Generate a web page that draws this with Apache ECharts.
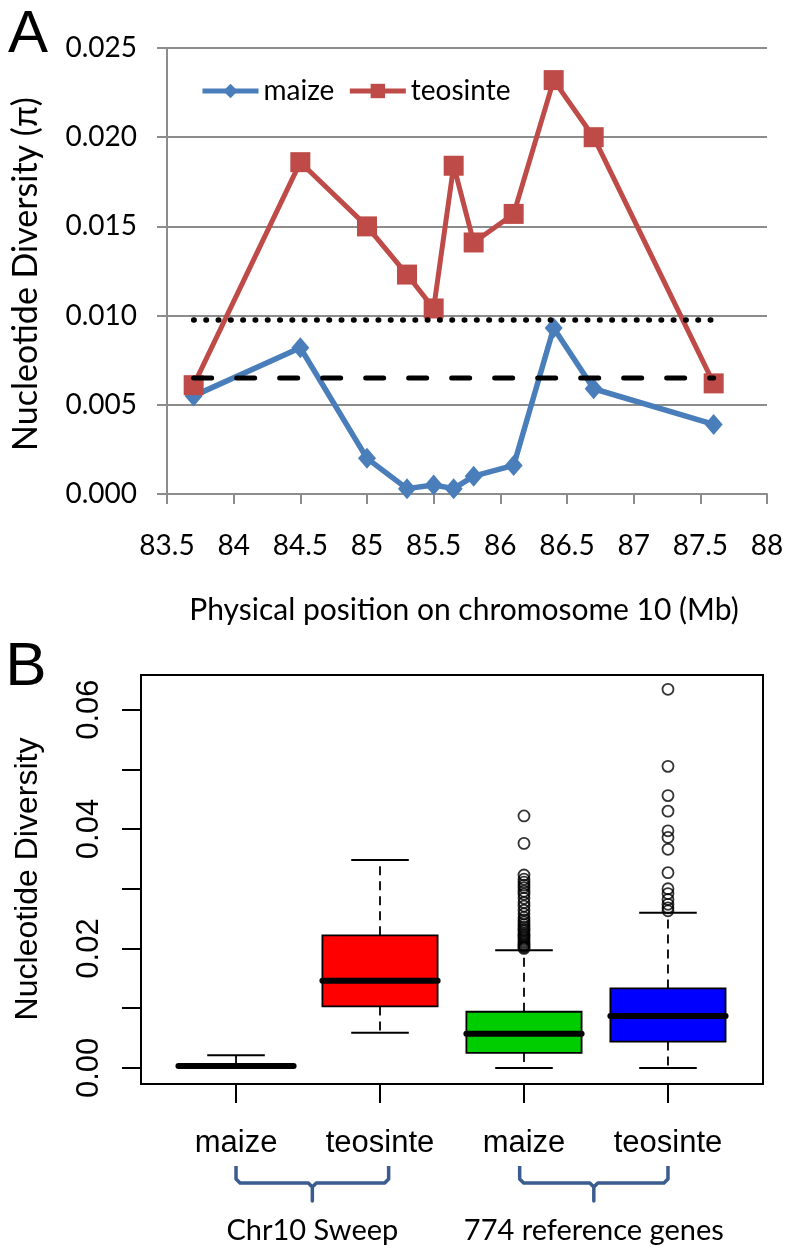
<!DOCTYPE html>
<html>
<head>
<meta charset="utf-8">
<script src="https://cdn.jsdelivr.net/npm/echarts@6/dist/echarts.min.js"></script>
<style>
  html, body { margin: 0; padding: 0; background: #fff; }
  #chart { width: 787px; height: 1248px; }
</style>
</head>
<body>
<div id="chart"></div>
<script type="application/javascript">
// ---- panel A: diversity along chromosome 10 ----
const positions = [83.7, 84.5, 85.0, 85.3, 85.5, 85.65, 85.8, 86.1, 86.4, 86.7, 87.6];
const maizePi = [0.0055, 0.0082, 0.0020, 0.0003, 0.0005, 0.0003, 0.0010, 0.0016, 0.0093, 0.0059, 0.0039];
const teosintePi = [0.0061, 0.0186, 0.0150, 0.0123, 0.0104, 0.0184, 0.0141, 0.0157, 0.0232, 0.0200, 0.0062];
const teosinteRefLevel = 0.00975; // dotted
const maizeRefLevel = 0.0065;     // dashed

// ---- panel B: box plots ----
const boxGroups = ['maize', 'teosinte', 'maize', 'teosinte'];
const boxPositions = [1, 2, 3, 4];
// min, q1, median, q3, max (whisker ends)
const boxStats = [
  [0.0000, 0.0002, 0.0003, 0.0005, 0.0021],
  [0.0059, 0.0103, 0.0146, 0.0222, 0.0348],
  [0.0000, 0.0025, 0.0057, 0.0094, 0.0197],
  [0.0000, 0.0044, 0.0087, 0.0133, 0.0260]
];
const boxColors = ['#ffffff', '#ff0000', '#00cd00', '#0000ff'];
const maizeRefOutliers = [0.0422, 0.0376, 0.0323, 0.0316, 0.0311, 0.0306, 0.0302, 0.0296, 0.0291,
  0.0284, 0.0277, 0.0271, 0.0264, 0.0258, 0.0252, 0.0248, 0.0244, 0.0240, 0.0236, 0.0232,
  0.0229, 0.0225, 0.0222, 0.0219, 0.0216, 0.0213, 0.0210, 0.0207, 0.0204, 0.0202, 0.0200];
const teosinteRefOutliers = [0.0634, 0.0505, 0.0456, 0.0430, 0.0397, 0.0386, 0.0366, 0.0327,
  0.0300, 0.0292, 0.0282, 0.0274, 0.0268, 0.0263];
const yTicksB = [0, 0.01, 0.02, 0.03, 0.04, 0.05, 0.06];
const yLabelsB = [0, 0.02, 0.04, 0.06];
const braceSpans = [[1.0, 2.06], [2.97, 4.0]];
const braceLabels = ['Chr10 Sweep', '774 reference genes'];

const GRAY = '#8c8c8c';
const chart = echarts.init(document.getElementById('chart'));

function renderBox(params, api) {
  const x = api.value(0);
  const pMin = api.coord([x, api.value(1)]);
  const pQ1 = api.coord([x, api.value(2)]);
  const pMed = api.coord([x, api.value(3)]);
  const pQ3 = api.coord([x, api.value(4)]);
  const pMax = api.coord([x, api.value(5)]);
  const half = api.size([0.8, 0])[0] / 2;
  const cx = pMed[0];
  const dash = { stroke: '#000', lineWidth: 1.8, lineDash: [9, 6] };
  const solid = { stroke: '#000', lineWidth: 2 };
  return {
    type: 'group',
    children: [
      { type: 'line', shape: { x1: cx, y1: pQ3[1], x2: cx, y2: pMax[1] }, style: dash },
      { type: 'line', shape: { x1: cx, y1: pQ1[1], x2: cx, y2: pMin[1] }, style: dash },
      { type: 'line', shape: { x1: cx - half / 2, y1: pMax[1], x2: cx + half / 2, y2: pMax[1] }, style: solid },
      { type: 'line', shape: { x1: cx - half / 2, y1: pMin[1], x2: cx + half / 2, y2: pMin[1] }, style: solid },
      { type: 'rect', shape: { x: cx - half, y: pQ3[1], width: half * 2, height: pQ1[1] - pQ3[1] },
        style: { fill: boxColors[params.dataIndex], stroke: '#000', lineWidth: 1.8 } },
      { type: 'line', shape: { x1: cx - half, y1: pMed[1], x2: cx + half, y2: pMed[1] },
        style: { stroke: '#000', lineWidth: 6, lineCap: 'round' } }
    ]
  };
}

const option = {
  animation: false,
  backgroundColor: '#fff',
  textStyle: { fontFamily: 'Lato' },
  legend: {
    data: ['maize', 'teosinte'],
    left: 195, top: 72,
    itemWidth: 56, itemHeight: 18, itemGap: 13,
    lineStyle: { width: 5 },
    textStyle: { fontFamily: 'Lato', fontSize: 28, color: '#000' }
  },
  grid: [
    { left: 167, top: 48, width: 600, height: 446 },
    { left: 141, top: 675, width: 622, height: 409, show: true, borderColor: '#000', borderWidth: 2 }
  ],
  xAxis: [
    {
      type: 'value', gridIndex: 0, min: 83.5, max: 88, interval: 0.5,
      axisLine: { onZero: false, lineStyle: { color: GRAY, width: 2 } },
      axisTick: { show: true, length: 10, lineStyle: { color: GRAY, width: 2 } },
      axisLabel: { fontFamily: 'Lato', fontSize: 28, color: '#000', margin: 38 },
      splitLine: { show: false }
    },
    {
      type: 'value', gridIndex: 1, min: 0.34, max: 4.66,
      axisLine: { show: true, onZero: false, lineStyle: { color: '#000', width: 2 } },
      axisTick: { show: true, customValues: boxPositions, length: 19, lineStyle: { color: '#000', width: 2 } },
      axisLabel: {
        customValues: boxPositions,
        formatter: v => boxGroups[boxPositions.indexOf(v)],
        fontFamily: 'Liberation Sans', fontSize: 31, color: '#000', margin: 44
      },
      splitLine: { show: false }
    }
  ],
  yAxis: [
    {
      type: 'value', gridIndex: 0, min: 0, max: 0.025, interval: 0.005,
      axisLine: { show: true, onZero: false, lineStyle: { color: GRAY, width: 2 } },
      axisTick: { show: true, length: 10, lineStyle: { color: GRAY, width: 2 } },
      axisLabel: { formatter: v => v.toFixed(3), fontFamily: 'Lato', fontSize: 28, color: '#000', margin: 30 },
      splitLine: { show: true, lineStyle: { color: GRAY, width: 2 } }
    },
    {
      type: 'value', gridIndex: 1, min: -0.0027, max: 0.0658,
      axisLine: { show: true, onZero: false, lineStyle: { color: '#000', width: 2 } },
      axisTick: { show: true, customValues: yTicksB, length: 19, lineStyle: { color: '#000', width: 2 } },
      axisLabel: {
        customValues: yLabelsB, rotate: 90,
        formatter: v => v.toFixed(2),
        fontFamily: 'Liberation Sans', fontSize: 31, color: '#000', margin: 36
      },
      splitLine: { show: false }
    }
  ],
  series: [
    {
      name: 'maize', type: 'line', xAxisIndex: 0, yAxisIndex: 0,
      data: positions.map((x, i) => [x, maizePi[i]]),
      symbol: 'diamond', symbolSize: [18, 21],
      lineStyle: { color: '#4a7ebb', width: 5.5 },
      itemStyle: { color: '#4a7ebb' }
    },
    {
      name: 'teosinte', type: 'line', xAxisIndex: 0, yAxisIndex: 0,
      data: positions.map((x, i) => [x, teosintePi[i]]),
      symbol: 'rect', symbolSize: 20,
      lineStyle: { color: '#be4b48', width: 5 },
      itemStyle: { color: '#be4b48' }
    },
    {
      name: 'teosinte ref', type: 'line', xAxisIndex: 0, yAxisIndex: 0, z: 5,
      data: [[positions[0], teosinteRefLevel], [positions[positions.length - 1], teosinteRefLevel]],
      symbol: 'none',
      lineStyle: { color: '#000', width: 5.5, type: [0.5, 11.8], cap: 'round' }
    },
    {
      name: 'maize ref', type: 'line', xAxisIndex: 0, yAxisIndex: 0, z: 5,
      data: [[positions[0], maizeRefLevel], [positions[positions.length - 1], maizeRefLevel]],
      symbol: 'none',
      lineStyle: { color: '#000', width: 5, type: [18, 25], cap: 'round' }
    },
    {
      type: 'custom', xAxisIndex: 1, yAxisIndex: 1,
      data: boxPositions.map((p, i) => [p].concat(boxStats[i])),
      encode: { x: 0, y: [1, 2, 3, 4, 5] },
      renderItem: renderBox
    },
    {
      type: 'scatter', xAxisIndex: 1, yAxisIndex: 1,
      data: maizeRefOutliers.map(v => [3, v]).concat(teosinteRefOutliers.map(v => [4, v])),
      symbol: 'circle', symbolSize: 11,
      itemStyle: { color: 'rgba(0,0,0,0)', borderColor: '#000', borderWidth: 1.8 }
    }
  ]
};
chart.setOption(option);

// texts and braces (braces placed from the panel B axis)
const graphics = [
  { type: 'text', x: 28, y: 35, style: { text: 'A', font: '60px "Liberation Sans"', fill: '#000', align: 'center', verticalAlign: 'middle' } },
  { type: 'text', x: 26, y: 668, style: { text: 'B', font: '62px "Liberation Sans"', fill: '#000', align: 'center', verticalAlign: 'middle' } },
  { type: 'text', x: 26, y: 274, rotation: Math.PI / 2,
    style: { text: 'Nucleotide Diversity (\u03c0)', font: '34px Lato', fill: '#000', align: 'center', verticalAlign: 'middle' } },
  { type: 'text', x: 464, y: 610,
    style: { text: 'Physical position on chromosome 10 (Mb)', font: '30px Lato', fill: '#000', align: 'center', verticalAlign: 'middle' } },
  { type: 'text', x: 28, y: 879, rotation: Math.PI / 2,
    style: { text: 'Nucleotide Diversity', font: '32px "Liberation Sans"', fill: '#000', align: 'center', verticalAlign: 'middle' } }
];
braceSpans.forEach((span, i) => {
  const x0 = chart.convertToPixel({ xAxisIndex: 1 }, span[0]);
  const x1 = chart.convertToPixel({ xAxisIndex: 1 }, span[1]);
  const xm = (x0 + x1) / 2;
  graphics.push({
    type: 'polyline',
    shape: { points: [[x0, 1166], [x0, 1179], [x0 + 4, 1183], [xm - 4, 1183], [xm, 1187], [xm, 1201],
      [xm, 1187], [xm + 4, 1183], [x1 - 4, 1183], [x1, 1179], [x1, 1166]] },
    style: { stroke: '#3b5c8e', lineWidth: 3.5, fill: null, lineJoin: 'round' }
  });
  graphics.push({
    type: 'text', x: xm, y: 1231,
    style: { text: braceLabels[i], font: '29px Lato', fill: '#000', align: 'center', verticalAlign: 'middle' }
  });
});
chart.setOption({ graphic: graphics });
</script>
</body>
</html>
